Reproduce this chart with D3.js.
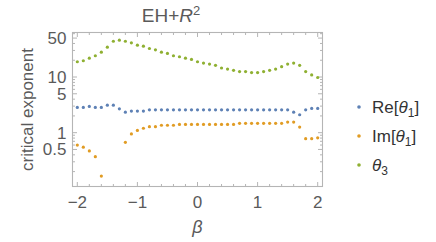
<!DOCTYPE html>
<html>
<head>
<meta charset="utf-8">
<script src="https://cdn.jsdelivr.net/npm/d3@7"></script>
<style>
  body { margin: 0; background: #fff; }
  text { font-family: 'Liberation Sans', Arial, sans-serif; }
</style>
</head>
<body>
<svg id="chart"></svg>
<script>
// beta values (x)
const betas = [-2.0, -1.9, -1.8, -1.7, -1.6, -1.5, -1.4, -1.3, -1.2, -1.1, -1.0,
  -0.9, -0.8, -0.7, -0.6, -0.5, -0.4, -0.3, -0.2, -0.1, 0.0,
  0.1, 0.2, 0.3, 0.4, 0.5, 0.6, 0.7, 0.8, 0.9, 1.0,
  1.1, 1.2, 1.3, 1.4, 1.5, 1.6, 1.7, 1.8, 1.9, 2.0];

// Re[theta1]
const reTheta1 = [2.84, 2.84, 2.96, 2.84, 2.84, 3.12, 3.12, 2.68, 2.34, 2.44, 2.44,
  2.44, 2.57, 2.57, 2.57, 2.57, 2.57, 2.57, 2.57, 2.57, 2.57,
  2.57, 2.57, 2.57, 2.57, 2.57, 2.57, 2.57, 2.57, 2.57, 2.57,
  2.57, 2.57, 2.57, 2.57, 2.57, 2.34, 2.10, 2.57, 2.73, 2.73];

// Im[theta1] (null = no point)
const imTheta1 = [0.60, 0.55, 0.47, 0.37, 0.166, null, null, null, 0.67, 0.95, 1.10,
  1.20, 1.28, 1.28, 1.36, 1.36, 1.36, 1.41, 1.41, 1.41, 1.41,
  1.41, 1.41, 1.41, 1.41, 1.41, 1.41, 1.47, 1.47, 1.47, 1.47,
  1.47, 1.47, 1.47, 1.47, 1.55, 1.55, 1.26, 0.78, 0.78, 0.81];

// theta3
const theta3 = [18.8, 19.6, 21.8, 24.1, 27.9, 34.3, 43.9, 45.8, 43.9, 41.1, 37.3,
  35.8, 32.5, 30.8, 27.9, 26.5, 24.1, 23.1, 21.8, 20.7, 18.8,
  17.8, 17.1, 16.2, 14.5, 13.9, 13.2, 12.5, 12.5, 12.0, 12.0,
  12.5, 13.2, 13.9, 15.3, 17.1, 17.8, 16.2, 12.5, 10.9, 9.8];

const seriesNames = ['Re', 'Im', 'theta3'];
const seriesColors = ['#5e81b5', '#e19c24', '#8fb032'];

const xTicks = [-2, -1, 0, 1, 2];
const yTicks = [0.5, 1, 5, 10, 50];
const yMinorTicks = [0.2, 0.3, 0.4, 0.6, 0.7, 0.8, 0.9, 2, 3, 4, 6, 7, 8, 9, 20, 30, 40, 60];

const width = 436, height = 242;
const margin = {top: 32.5, right: 113.5, bottom: 55.5, left: 72.5};
const innerW = width - margin.left - margin.right;
const innerH = height - margin.top - margin.bottom;

const svg = d3.select('#chart')
    .attr('width', width)
    .attr('height', height);

const chart = svg.append('g')
    .attr('transform', `translate(${margin.left},${margin.top})`);

const xScale = d3.scaleLinear()
    .domain([-2.08, 2.08])
    .range([0, innerW]);

const yScale = d3.scaleLog()
    .domain([0.108, 63])
    .range([innerH, 0]);

const frameColor = '#b5b5b5';
const labelColor = '#5a5a5a';

// minor x ticks every 0.2
const xMinor = d3.range(-20, 21, 2).map(d => d / 10).filter(d => !xTicks.includes(d));

// frame ticks (inside), bottom + top
[[innerH, -1], [0, 1]].forEach(([y0, dir]) => {
  chart.selectAll(null)
      .data(xTicks)
    .join('line')
      .attr('x1', d => xScale(d)).attr('x2', d => xScale(d))
      .attr('y1', y0).attr('y2', y0 + dir * 4.5)
      .attr('stroke', frameColor);
  chart.selectAll(null)
      .data(xMinor)
    .join('line')
      .attr('x1', d => xScale(d)).attr('x2', d => xScale(d))
      .attr('y1', y0).attr('y2', y0 + dir * 2.5)
      .attr('stroke', frameColor);
});

// left + right
[[0, 1], [innerW, -1]].forEach(([x0, dir]) => {
  chart.selectAll(null)
      .data(yTicks)
    .join('line')
      .attr('y1', d => yScale(d)).attr('y2', d => yScale(d))
      .attr('x1', x0).attr('x2', x0 + dir * 4.5)
      .attr('stroke', frameColor);
  chart.selectAll(null)
      .data(yMinorTicks)
    .join('line')
      .attr('y1', d => yScale(d)).attr('y2', d => yScale(d))
      .attr('x1', x0).attr('x2', x0 + dir * 2.5)
      .attr('stroke', frameColor);
});

// frame
chart.append('rect')
    .attr('width', innerW)
    .attr('height', innerH)
    .attr('fill', 'none')
    .attr('stroke', frameColor)
    .attr('stroke-width', 1.1);

// tick labels
chart.selectAll('.xlab')
    .data(xTicks)
  .join('text')
    .attr('class', 'xlab')
    .attr('x', d => xScale(d))
    .attr('y', innerH + 21.5)
    .attr('text-anchor', 'middle')
    .attr('fill', labelColor)
    .style('font-size', '17px')
    .text(d => d < 0 ? '\u2212' + Math.abs(d) : d);

chart.selectAll('.ylab')
    .data(yTicks)
  .join('text')
    .attr('class', 'ylab')
    .attr('x', -6)
    .attr('y', d => yScale(d) + 6)
    .attr('text-anchor', 'end')
    .attr('fill', labelColor)
    .style('font-size', '17px')
    .text(d => d);

// axis titles
svg.append('text')
    .attr('transform', `translate(33,${margin.top + innerH / 2}) rotate(-90)`)
    .attr('text-anchor', 'middle')
    .attr('fill', labelColor)
    .style('font-size', '17px')
    .text('critical exponent');

svg.append('text')
    .attr('x', margin.left + xScale(0))
    .attr('y', 233)
    .attr('text-anchor', 'middle')
    .attr('fill', labelColor)
    .style('font-size', '18px')
    .style('font-style', 'italic')
    .text('\u03b2');

const title = svg.append('text')
    .attr('x', 171)
    .attr('y', 22)
    .attr('text-anchor', 'middle')
    .attr('fill', labelColor)
    .style('font-size', '19px');
title.append('tspan').text('EH+');
title.append('tspan').style('font-style', 'italic').text('R');
title.append('tspan').attr('dy', -7).style('font-size', '13px').text('2');

// points
const allSeries = [reTheta1, imTheta1, theta3];
allSeries.forEach((vals, i) => {
  const pts = betas.map((b, j) => ({b: b, v: vals[j]})).filter(d => d.v != null);
  chart.selectAll(`.pt-${seriesNames[i]}`)
      .data(pts)
    .join('circle')
      .attr('class', `pt-${seriesNames[i]}`)
      .attr('cx', d => xScale(d.b))
      .attr('cy', d => yScale(d.v))
      .attr('r', 1.6)
      .attr('fill', seriesColors[i]);
});

// legend
const legendY = [107, 136, 165];
const legend = svg.append('g');
seriesNames.forEach((name, i) => {
  legend.append('circle')
      .attr('cx', 359)
      .attr('cy', legendY[i])
      .attr('r', 1.8)
      .attr('fill', seriesColors[i]);
  const t = legend.append('text')
      .attr('x', 372)
      .attr('y', legendY[i] + 6)
      .attr('fill', '#333')
      .style('font-size', '17px');
  if (name === 'theta3') {
    t.append('tspan').style('font-style', 'italic').text('\u03b8');
    t.append('tspan').attr('dy', 4).style('font-size', '12px').text('3');
  } else {
    t.append('tspan').text(name + '[');
    t.append('tspan').style('font-style', 'italic').text('\u03b8');
    t.append('tspan').attr('dy', 4).style('font-size', '12px').text('1');
    t.append('tspan').attr('dy', -4).text(']');
  }
});
</script>
</body>
</html>
